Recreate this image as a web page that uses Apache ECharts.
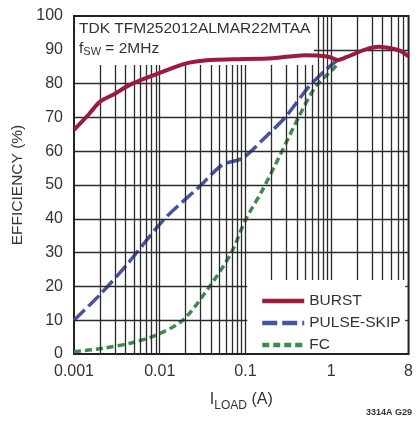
<!DOCTYPE html>
<html>
<head>
<meta charset="utf-8">
<script src="https://cdn.jsdelivr.net/npm/echarts@6/dist/echarts.min.js"></script>
<style>
html,body{margin:0;padding:0;background:#fff;}
#c{width:416px;height:421px;}
</style>
</head>
<body>
<div id="c"></div>
<script>
// ---- data ----
const burstX = [0.001, 0.0015, 0.002, 0.003, 0.0041, 0.006, 0.01, 0.0204, 0.038, 0.071, 0.207, 0.5, 0.9, 1.2, 1.5, 1.9, 2.75, 3.6, 5.1, 6.5, 8];
const burstY = [66.3, 71, 74.6, 77, 79.1, 81, 83.2, 86, 87, 87.2, 87.5, 88.4, 88, 87, 87.8, 88.9, 90.4, 90.9, 90.4, 89.6, 88];
const pulseX = [0.001, 0.002, 0.004, 0.0114, 0.029, 0.054, 0.092, 0.173, 0.295, 0.55, 0.86, 1.2];
const pulseY = [10, 17.5, 26, 40, 49.5, 56, 57.9, 64.3, 70.2, 79.1, 84, 87];
const fcX = [0.001, 0.0022, 0.0045, 0.0091, 0.0186, 0.038, 0.068, 0.1, 0.158, 0.26, 0.42, 0.66, 1.12, 1.2];
const fcY = [0.7, 1.7, 3.2, 5.6, 10, 19.9, 29.8, 39.6, 48.5, 59.4, 70.2, 79.1, 85, 86.5];
const seriesNames = ['BURST', 'PULSE-SKIP', 'FC'];
const yTicks = [0, 10, 20, 30, 40, 50, 60, 70, 80, 90, 100];
const xDecades = [0.001, 0.01, 0.1, 1];
const xMin = 0.001, xMax = 8;
const noteLine1 = 'TDK TFM252012ALMAR22MTAA';
const figId = '3314A G29';

const FONT = '"Liberation Sans", Arial, sans-serif';
const TXT = '#333';
const GRID = '#2b2b2b';

function zip(xs, ys){ return xs.map((x,i)=>[x, ys[i]]); }

// grid segments (text box and legend box leave gaps)
const segs = [];
xDecades.forEach(d=>{
  for (let m=1; m<=9; m++){
    const v = +(m*d).toPrecision(3);
    if (v <= xMin || v >= xMax) continue;
    const top = v < 0.65 ? 85.5 : 100;
    const bot = v > 0.15 ? 21.9 : 0;
    segs.push([{coord:[v, bot]}, {coord:[v, top]}]);
  }
});
yTicks.forEach(t=>{
  if (t === 0 || t === 100) return;
  const x0 = t === 90 ? 0.63 : xMin;
  const x1 = t <= 20 ? 0.105 : xMax;
  segs.push([{coord:[x0, t]}, {coord:[x1, t]}]);
  if (t <= 20) segs.push([{coord:[7.3, t]}, {coord:[xMax, t]}]);
});

const chart = echarts.init(document.getElementById('c'), null, {renderer:'canvas'});
chart.setOption({
  animation: false,
  backgroundColor: '#fff',
  textStyle: {fontFamily: FONT},
  grid: {left:74, right:6, top:16, bottom:67, show:true, borderColor:'#222', borderWidth:2, backgroundColor:'#fff'},
  xAxis: {
    type:'log', logBase:10, min:xMin, max:xMax,
    axisLine:{show:false}, axisTick:{show:false}, splitLine:{show:false},
    axisLabel:{fontSize:16, color:TXT, margin:10, fontFamily:FONT, showMinLabel:true, showMaxLabel:true,
      formatter: v => String(+(+v).toPrecision(3))},
    name:'{a|I}{s|LOAD}{a| (A)}', nameLocation:'middle', nameGap:38,
    nameTextStyle:{fontFamily:FONT, color:TXT, rich:{
      a:{fontSize:16, color:TXT, fontFamily:FONT, verticalAlign:'top', lineHeight:20},
      s:{fontSize:12, color:TXT, fontFamily:FONT, verticalAlign:'bottom', lineHeight:20, padding:[8,0,0,0]}
    }}
  },
  yAxis: {
    type:'value', min:0, max:100, interval:10,
    axisLine:{show:false}, axisTick:{show:false}, splitLine:{show:false},
    axisLabel:{fontSize:16, color:TXT, margin:11, fontFamily:FONT},
    name:'EFFICIENCY (%)', nameLocation:'middle', nameRotate:90, nameGap:46,
    nameTextStyle:{fontSize:15.5, color:TXT, fontFamily:FONT}
  },
  legend: {
    data: seriesNames, orient:'vertical', left:255, top:288,
    itemWidth:42, itemHeight:14, itemGap:6,
    itemStyle:{opacity:0},
    lineStyle:{width:4.5},
    textStyle:{fontSize:15.5, color:TXT, fontFamily:FONT, padding:[0,0,0,0]}
  },
  graphic: [
    {type:'text', left:79, top:21, z:100, style:{text:noteLine1, font:'15.5px ' + FONT, fill:TXT}},
    {type:'text', left:79, top:41, z:100, style:{text:'{a|f}{s|SW}{a| = 2MHz}', fill:TXT,
      rich:{a:{fontSize:15.5, fontFamily:FONT, fill:TXT, color:TXT, verticalAlign:'top', lineHeight:18},
            s:{fontSize:11, fontFamily:FONT, fill:TXT, color:TXT, verticalAlign:'top', lineHeight:18, padding:[5,0,0,0]}}}},
    {type:'text', right:4, top:408, z:100, style:{text:figId, font:'bold 9px ' + FONT, fill:'#333'}}
  ],
  series: [
    {name:'grid', type:'line', data:[], z:1, silent:true,
      markLine:{silent:true, symbol:['none','none'], label:{show:false}, animation:false,
        lineStyle:{color:GRID, width:1.3, type:'solid'}, emphasis:{disabled:true}, data:segs}},
    {name:'BURST', type:'line', z:5, data:zip(burstX, burstY), showSymbol:false, symbol:'none', smooth:0.3,
      lineStyle:{color:'#9c1a3c', width:4}, itemStyle:{color:'#9c1a3c'}},
    {name:'PULSE-SKIP', type:'line', z:4, data:zip(pulseX, pulseY), showSymbol:false, symbol:'none', smooth:0.3,
      lineStyle:{color:'#4553a8', width:3.5, type:[15,5]}, itemStyle:{color:'#4553a8'}},
    {name:'FC', type:'line', z:4, data:zip(fcX, fcY), showSymbol:false, symbol:'none', smooth:0.3,
      lineStyle:{color:'#3d8b4f', width:3.5, type:[7,4]}, itemStyle:{color:'#3d8b4f'}}
  ]
});
</script>
</body>
</html>
